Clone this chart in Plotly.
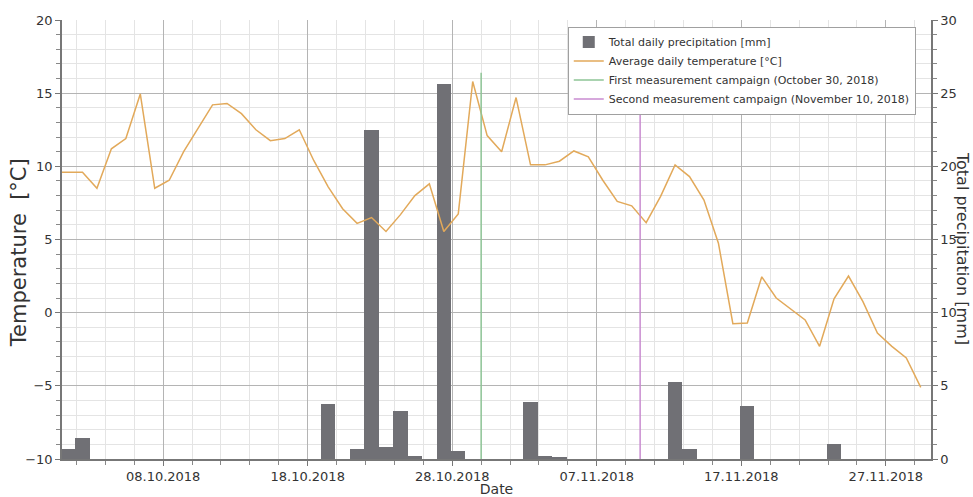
import plotly.graph_objects as go
import pandas as pd

# daily mean temperature [°C], 30.09.2018 .. 29.11.2018
temp_dates = pd.date_range("2018-09-30", "2018-11-29", freq="D")
temp_c = [9.6,
          9.6, 9.6, 8.5, 11.2, 11.9, 14.95, 8.5, 9.05, 11.0, 12.6,
          14.2, 14.3, 13.6, 12.5, 11.75, 11.9, 12.5, 10.4, 8.6, 7.1,
          6.1, 6.5, 5.55, 6.7, 8.0, 8.8, 5.55, 6.75, 15.8, 12.1, 11.0,
          14.7, 10.1, 10.1, 10.35, 11.05, 10.65, 9.05, 7.6, 7.3, 6.15,
          7.95, 10.1, 9.3, 7.7, 4.75, -0.75, -0.7, 2.45, 1.0, 0.25,
          -0.5, -2.3, 0.95, 2.5, 0.75, -1.4, -2.3, -3.1, -5.1]

# daily precipitation [mm] (days without rain omitted)
rain_dates = ["2018-10-01", "2018-10-02", "2018-10-19", "2018-10-21", "2018-10-22",
              "2018-10-23", "2018-10-24", "2018-10-25", "2018-10-27", "2018-10-28",
              "2018-11-02", "2018-11-03", "2018-11-04", "2018-11-12", "2018-11-13",
              "2018-11-17", "2018-11-23"]
rain_mm = [0.66, 1.46, 3.76, 0.66, 22.5,
           0.84, 3.3, 0.2, 25.6, 0.57,
           3.87, 0.2, 0.14, 5.24, 0.66,
           3.62, 1.05]

campaign_1 = "2018-10-30"
campaign_2 = "2018-11-10"
campaign_top = 16.4

DAY = 86400000
shift = pd.Timedelta(hours=10)
font = "DejaVu Sans"

fig = go.Figure()
fig.add_trace(go.Bar(x=pd.to_datetime(rain_dates) + shift, y=rain_mm, yaxis="y",
                     name="Total daily precipitation [mm]",
                     marker=dict(color="#707075", line=dict(width=0)), width=DAY * 0.98))
fig.add_trace(go.Scatter(x=temp_dates + shift, y=temp_c, yaxis="y2", mode="lines",
                         name="Average daily temperature [°C]",
                         line=dict(color="#e2a95a", width=1.5)))
fig.add_trace(go.Scatter(x=[campaign_1, campaign_1], y=[-10, campaign_top], yaxis="y2",
                         mode="lines", name="First measurement campaign (October 30, 2018)",
                         line=dict(color="#8ec596", width=1.5)))
fig.add_trace(go.Scatter(x=[campaign_2, campaign_2], y=[-10, campaign_top], yaxis="y2",
                         mode="lines", name="Second measurement campaign (November 10, 2018)",
                         line=dict(color="#c98bd0", width=1.5)))

fig.update_layout(
    width=973, height=497,
    margin=dict(l=62, r=42, t=20, b=38),
    paper_bgcolor="white", plot_bgcolor="white",
    font=dict(family=font, size=13, color="#333333"),
    bargap=0,
    showlegend=True,
    legend=dict(x=0.582, y=0.985, xanchor="left", yanchor="top",
                bgcolor="white", bordercolor="#a0a0a0", borderwidth=1,
                font=dict(size=11, color="#333333"), itemwidth=30,
                tracegroupgap=0),
    xaxis=dict(type="date", range=["2018-10-01", "2018-11-30 03:00"], automargin=False,
               tick0="2018-10-08", dtick=10 * DAY, tickformat="%d.%m.%Y",
               showgrid=True, gridcolor="#b4b4b4", gridwidth=1,
               ticks="outside", ticklen=5, tickcolor="#777777",
               showline=True, linecolor="#777777", linewidth=1.5,
               minor=dict(tick0="2018-10-08", dtick=2 * DAY, showgrid=True,
                          gridcolor="#e4e4e4", ticks="outside", ticklen=4,
                          tickcolor="#888888"),
               title=dict(text="Date", font=dict(size=14), standoff=2),
               zeroline=False),
    yaxis=dict(side="right", range=[0, 30], dtick=5, automargin=False,
               showgrid=True, gridcolor="#b4b4b4", gridwidth=1,
               ticks="outside", ticklen=5, tickcolor="#777777",
               showline=True, linecolor="#777777", linewidth=1.5,
               minor=dict(dtick=1, showgrid=True, gridcolor="#e4e4e4",
                          ticks="outside", ticklen=4, tickcolor="#888888"),
               zeroline=False),
    yaxis2=dict(overlaying="y", side="left", range=[-10, 20], dtick=5, automargin=False,
                showgrid=False, ticks="outside", ticklen=5, tickcolor="#777777",
                showline=True, linecolor="#777777", linewidth=1.5,
                minor=dict(dtick=1, ticks="outside", ticklen=4, tickcolor="#888888"),
                zeroline=False),
    annotations=[
        dict(text="Temperature  [°C]", xref="paper", yref="paper", x=-0.05, y=0.47,
             xanchor="center", yanchor="middle",
             textangle=-90, showarrow=False, font=dict(size=21, color="#333333")),
        dict(text="Total precipitation [mm]", xref="paper", yref="paper", x=1.036, y=0.48,
             xanchor="center", yanchor="middle",
             textangle=90, showarrow=False, font=dict(size=16, color="#333333")),
    ],
)

# drop the default body margin so the 973x497 figure fills the window exactly
fig.write_html("out.html", config={"displayModeBar": False},
               post_script="document.body.style.margin='0';")
